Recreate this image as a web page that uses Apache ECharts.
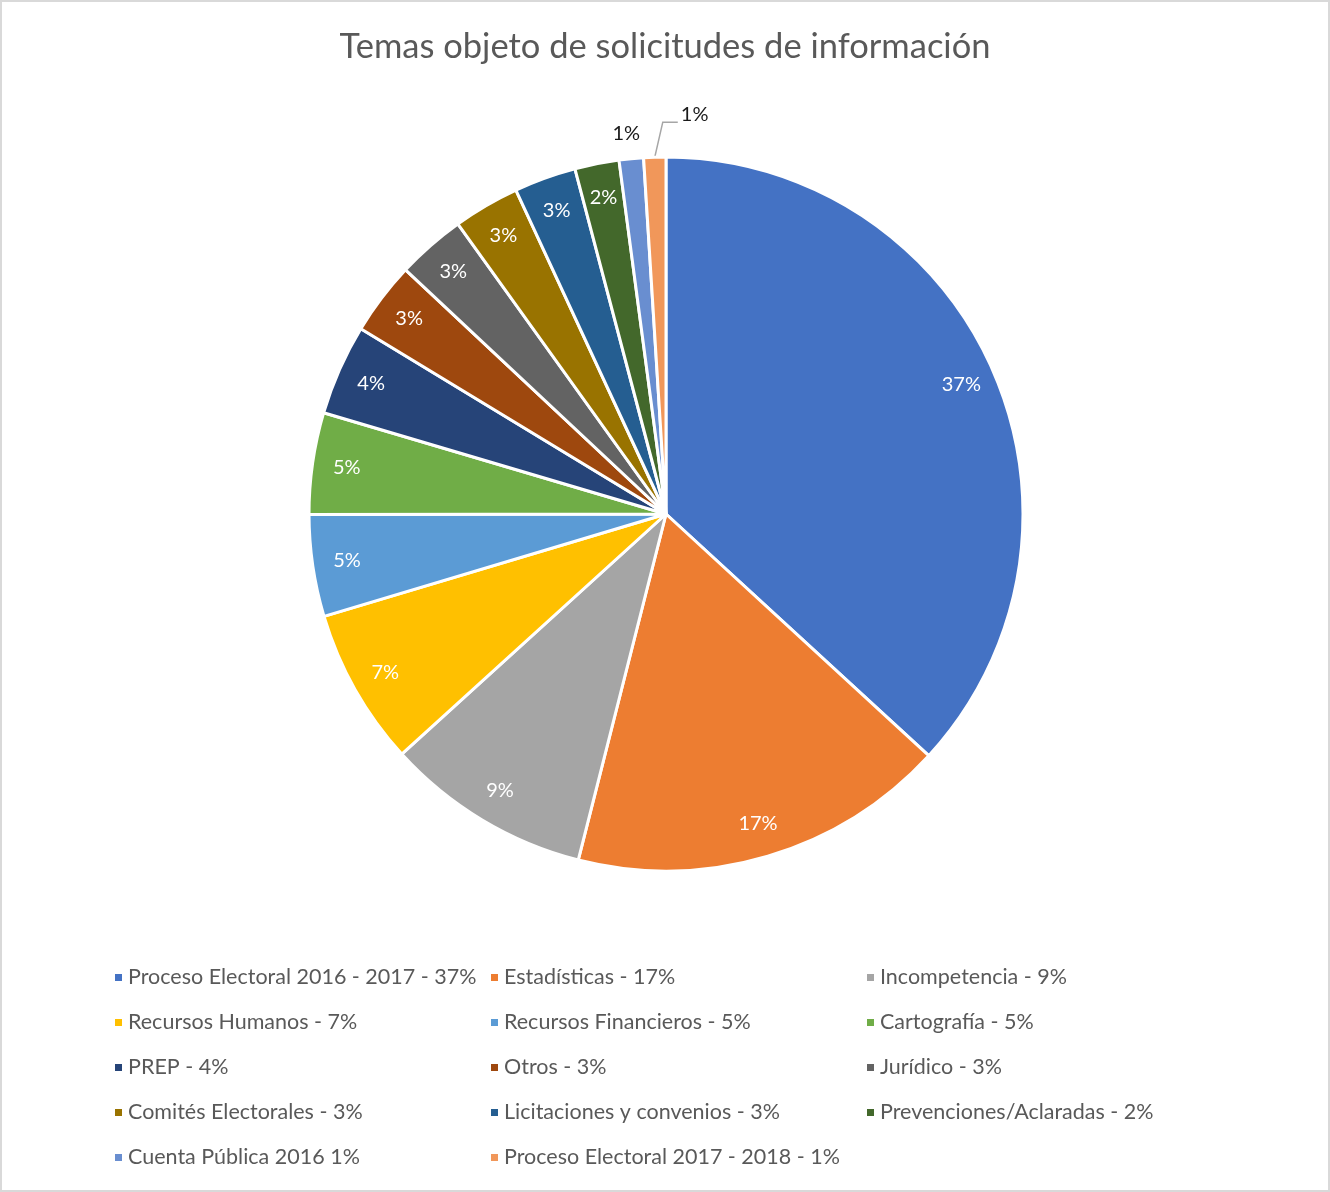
<!DOCTYPE html>
<html>
<head>
<meta charset="utf-8">
<script src="https://cdn.jsdelivr.net/npm/echarts@6/dist/echarts.min.js"></script>
<style>
    html, body { margin: 0; padding: 0; background: #fff; }
    #chart { width: 1326px; height: 1188px; border: 2px solid #d9d9d9; }
</style>
</head>
<body>
<div id="chart"></div>
<script>
    // 数据
    var categories = [
        'Proceso Electoral 2016 - 2017 - 37%',
        'Estadísticas - 17%',
        'Incompetencia - 9%',
        'Recursos Humanos - 7%',
        'Recursos Financieros - 5%',
        'Cartografía - 5%',
        'PREP - 4%',
        'Otros - 3%',
        'Jurídico - 3%',
        'Comités Electorales - 3%',
        'Licitaciones y convenios - 3%',
        'Prevenciones/Aclaradas - 2%',
        'Cuenta Pública 2016 1%',
        'Proceso Electoral 2017 - 2018 - 1%'
    ];
    var values = [36.8, 17.1, 9.3, 7.1, 4.6, 4.6, 4.1, 3.3, 3.1, 3.0, 2.8, 2.0, 1.1, 1.0];
    var colors = ['#4472C4', '#ED7D31', '#A5A5A5', '#FFC000', '#5B9BD5', '#70AD47', '#264478',
                  '#9E480E', '#636363', '#997300', '#255E91', '#43682B', '#698ED0', '#F1975A'];

    var font = 'Lato';
    var last = categories.length - 1;
    var myPie = echarts.init(document.getElementById('chart'));

    var mainData = [];
    var ringData = [];
    for (var i = 0; i < categories.length; i++) {
        var small = i >= last - 1;
        mainData.push({
            name: categories[i],
            value: values[i],
            label: { show: small },
            labelLine: { show: i == last }
        });
        ringData.push({
            name: categories[i],
            value: values[i],
            label: { show: !small }
        });
    }

    function pct(p) {
        return Math.round(p.percent) + '%';
    }

    // 两个小扇区的标签位置（相对扇区外缘点）
    function smallLabels(params) {
        var p0 = params.labelLinePoints;
        if (!p0) return;
        p0 = p0[0];
        if (params.dataIndex == last) {
            var p1 = [p0[0] + 8, p0[1] - 35];
            var p2 = [p1[0] + 15, p1[1]];
            return {
                x: p2[0] + 3,
                y: p2[1] - 8,
                align: 'left',
                verticalAlign: 'middle',
                labelLinePoints: [p0, p1, p2]
            };
        }
        if (params.dataIndex == last - 1) {
            return {
                x: p0[0] - 5,
                y: p0[1] - 25,
                align: 'center',
                verticalAlign: 'middle'
            };
        }
    }

    pieOption = {
        color: colors,
        animation: false,
        title: {
            text: 'Temas objeto de solicitudes de información',
            left: 'center',
            top: 22,
            textStyle: {
                color: '#595959',
                fontFamily: font,
                fontSize: 34.5,
                fontWeight: 400
            }
        },
        legend: {
            left: 106,
            top: 953,
            width: 1140,
            itemWidth: 9,
            itemHeight: 9,
            itemGap: 10,
            icon: 'rect',
            data: categories,
            textStyle: {
                color: '#595959',
                fontFamily: font,
                fontSize: 21.5,
                width: 351,
                lineHeight: 35
            }
        },
        series: [
            {
                type: 'pie',
                center: [664, 512],
                radius: [0, 357],
                startAngle: 90,
                avoidLabelOverlap: false,
                itemStyle: {
                    borderColor: '#fff',
                    borderWidth: 3
                },
                label: {
                    position: 'outside',
                    formatter: pct,
                    color: '#1a1a1a',
                    fontFamily: font,
                    fontSize: 20
                },
                labelLine: {
                    length: 30,
                    length2: 14,
                    lineStyle: { color: '#a6a6a6', width: 1.5 }
                },
                labelLayout: smallLabels,
                emphasis: { disabled: true },
                data: mainData
            },
            {
                type: 'pie',
                center: [664, 512],
                radius: [282, 357],
                startAngle: 90,
                silent: true,
                itemStyle: { color: 'rgba(0,0,0,0)' },
                label: {
                    position: 'inside',
                    formatter: pct,
                    color: '#fff',
                    fontFamily: font,
                    fontSize: 20
                },
                labelLine: { show: false },
                emphasis: { disabled: true },
                data: ringData
            }
        ]
    };
    myPie.setOption(pieOption);

    window.addEventListener('resize', function () {
        myPie.resize();
    });
</script>
</body>
</html>
